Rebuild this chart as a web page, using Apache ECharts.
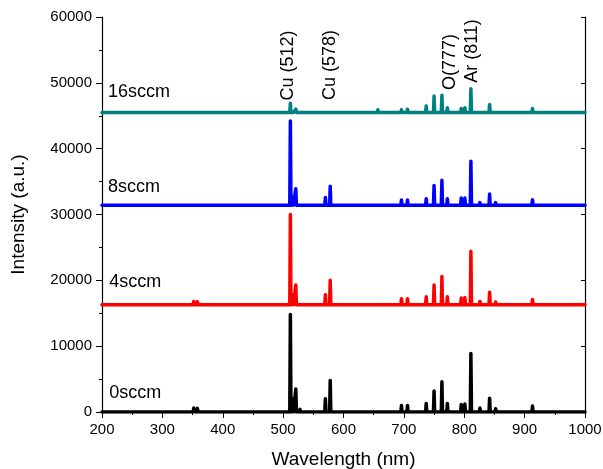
<!DOCTYPE html>
<html>
<head>
<meta charset="utf-8">
<script src="https://cdn.jsdelivr.net/npm/echarts@6/dist/echarts.min.js"></script>
<style>
  html, body { margin: 0; padding: 0; background: #fff; }
  #chart { width: 603px; height: 469px; }
</style>
</head>
<body>
<div id="chart"></div>
<script>
// emission lines (nm) shared by all spectra
const lines = [352, 358, 465, 512, 516, 521, 528, 570, 578, 640, 657, 696, 706, 737, 750, 763, 772, 795, 801, 811, 826, 842, 852, 913];

// peak heights above each baseline
const peaks0 = [600, 550, 300, 14800, 2000, 3500, 400, 2000, 4800, 200, 300, 1000, 1000, 1300, 3200, 4600, 1300, 1150, 1200, 8900, 600, 2100, 500, 900];
const peaks4 = [500, 450, 200, 13700, 1500, 3000, 300, 1500, 3700, 200, 200, 900, 900, 1200, 3000, 4300, 1200, 1000, 1100, 8100, 500, 1900, 400, 800];
const peaks8 = [300, 250, 150, 12800, 1300, 2500, 300, 1200, 2900, 200, 200, 800, 800, 1000, 3000, 3800, 1000, 1100, 1100, 6700, 400, 1700, 400, 850];
const peaks16 = [150, 100, 100, 1400, 300, 500, 200, 200, 300, 300, 400, 400, 500, 1000, 2500, 2600, 700, 600, 700, 3600, 300, 1200, 300, 600];

const names = ['0sccm', '4sccm', '8sccm', '16sccm'];
const baselines = [0, 16300, 31400, 45500];
const colors = ['#000000', '#ff0000', '#0000ff', '#008080'];
const allPeaks = [peaks0, peaks4, peaks8, peaks16];

// text labels next to each spectrum
const nameX = [212, 212, 210, 210];
const nameY = [2900, 19800, 34200, 48600];

// line identifications
const idNames = ['Cu (512)', 'Cu (578)', 'O(777)', 'Ar (811)'];
const idX = [508, 577, 776, 813];
const idY = [47300, 47400, 48900, 50000];

function spectrum(base, amps) {
  const pts = [[200, base]];
  lines.forEach((w, i) => {
    pts.push([w - 1, base], [w, base + amps[i]], [w + 1, base]);
  });
  pts.push([1000, base]);
  return pts;
}

const chart = echarts.init(document.getElementById('chart'));
const font = 'Liberation Sans, Arial, sans-serif';

const axisCommon = {
  axisLine: { lineStyle: { color: '#000', width: 1.2 } },
  splitLine: { show: false },
};

const series = names.map((n, k) => ({
  name: n,
  type: 'line',
  data: spectrum(baselines[k], allPeaks[k]),
  showSymbol: false,
  silent: true,
  lineStyle: { color: colors[k], width: 3.5, join: 'round', cap: 'round' },
  z: 2 + k,
}));

const textLabel = {
  show: true, position: [0, 0], verticalAlign: 'middle',
  formatter: p => p.name, color: '#000', fontSize: 18, fontFamily: font, opacity: 1,
};

series.push({
  type: 'scatter',
  symbolSize: 0,
  silent: true,
  itemStyle: { opacity: 1 },
  data: names.map((n, k) => ({ value: [nameX[k], nameY[k]], name: n })),
  label: Object.assign({ align: 'left' }, textLabel),
  z: 10,
});

series.push({
  type: 'scatter',
  symbolSize: 0,
  silent: true,
  itemStyle: { opacity: 1 },
  data: idNames.map((n, k) => ({ value: [idX[k], idY[k]], name: n })),
  label: Object.assign({ align: 'left', rotate: 90 }, textLabel),
  z: 10,
});

chart.setOption({
  animation: false,
  backgroundColor: '#fff',
  grid: { left: 102, right: 18, top: 17, bottom: 57, outerBoundsMode: 'none', containLabel: false },
  xAxis: [
    Object.assign({
      type: 'value', min: 200, max: 1000, interval: 100,
      name: 'Wavelength (nm)', nameLocation: 'middle', nameGap: 38,
      nameTextStyle: { color: '#000', fontSize: 19, fontFamily: font },
      axisTick: { inside: false, length: 6, lineStyle: { color: '#000' } },
      minorTick: { show: true, splitNumber: 2, length: 3, lineStyle: { color: '#000' } },
      axisLabel: { color: '#000', fontSize: 15, fontFamily: font, margin: 10, formatter: v => String(v) },
    }, axisCommon),
    Object.assign({
      type: 'value', min: 200, max: 1000, interval: 100, position: 'top',
      axisTick: { inside: true, length: 4, lineStyle: { color: '#000' } },
      minorTick: { show: false },
      axisLabel: { show: false },
    }, axisCommon),
  ],
  yAxis: [
    Object.assign({
      type: 'value', min: 0, max: 60000, interval: 10000,
      name: 'Intensity (a.u.)', nameLocation: 'middle', nameGap: 74,
      nameTextStyle: { color: '#000', fontSize: 19, fontFamily: font },
      axisTick: { inside: false, length: 6, lineStyle: { color: '#000' } },
      minorTick: { show: true, splitNumber: 2, length: 3, lineStyle: { color: '#000' } },
      axisLabel: { color: '#000', fontSize: 15, fontFamily: font, margin: 10, formatter: v => String(v) },
    }, axisCommon),
    Object.assign({
      type: 'value', min: 0, max: 60000, interval: 10000, position: 'right',
      axisTick: { inside: true, length: 4, lineStyle: { color: '#000' } },
      minorTick: { show: false },
      axisLabel: { show: false },
    }, axisCommon),
  ],
  series: series,
});
</script>
</body>
</html>
